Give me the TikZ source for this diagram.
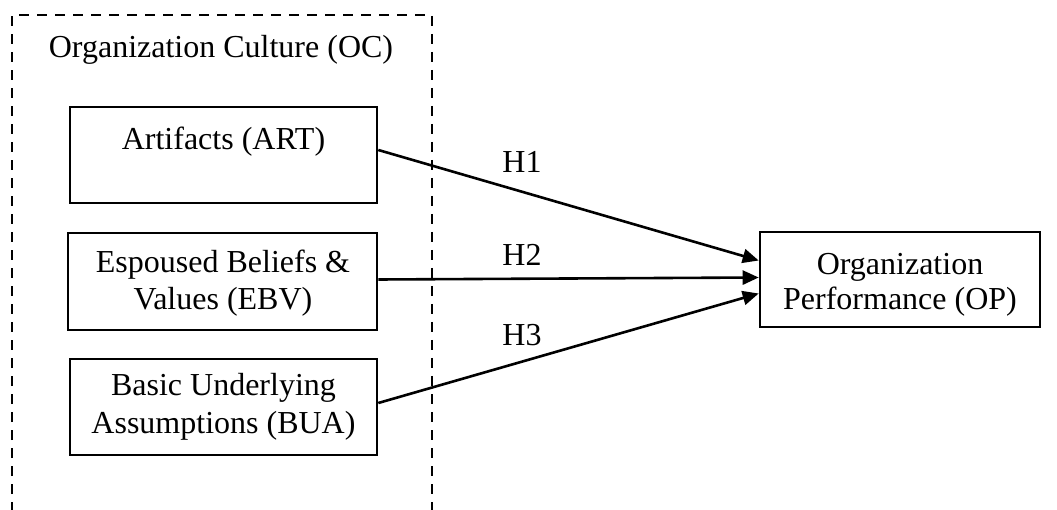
\documentclass[tikz,border=0pt]{standalone}
\usepackage{fontspec}
\setmainfont{Liberation Serif}
\usetikzlibrary{arrows.meta}
\tikzset{
  txt/.style={font=\fontsize{32}{37}\selectfont, inner sep=0pt, align=center},
  boxn/.style={draw, line width=2.6pt, inner sep=0pt},
  conn/.style={line width=2.6pt, -{Triangle[length=16pt,width=14pt]}},
  frame/.style={line width=2.4pt, dash pattern=on 10pt off 8pt},
  hlab/.style={font=\fontsize{32}{37}\selectfont, inner sep=0pt, anchor=base}
}
\begin{document}
\begin{tikzpicture}[x=1pt,y=-1pt]
\useasboundingbox (0,0) rectangle (1057,510);
% frame
\coordinate (fbl) at (12,512);
\coordinate (ftl) at (12,15);
\coordinate (ftr) at (432,15);
\coordinate (fbr) at (432,512);
\draw[frame] (fbl) -- (ftl) -- (ftr) -- (fbr);
\node[txt, anchor=base] (oc) at (221,58) {Organization Culture (OC)};
% boxes
\node[boxn, minimum width=307pt, minimum height=96pt] (art) at (223.5,155) {};
\node[boxn, minimum width=309pt, minimum height=97pt] (ebv) at (222.5,281.5) {};
\node[boxn, minimum width=307pt, minimum height=96pt] (bua) at (223.5,407) {};
\node[boxn, minimum width=280pt, minimum height=95pt] (op) at (900,279.5) {};
% texts
\node[txt, anchor=base] (artt) at (223.5,150) {Artifacts (ART)};
\node[txt, anchor=base] (ebvt1) at (223,273) {Espoused Beliefs \&};
\node[txt, anchor=base] (ebvt2) at (223,310) {Values (EBV)};
\node[txt, anchor=base] (buat1) at (223.5,395) {Basic Underlying};
\node[txt, anchor=base] (buat2) at (223.5,433) {Assumptions (BUA)};
\node[txt, anchor=base] (opt1) at (900,275) {Organization};
\node[txt, anchor=base] (opt2) at (900,310) {Performance (OP)};
% connectors
\draw[conn] ([yshift=5pt]art.east) -- ([yshift=19pt]op.west);
\draw[conn] ([yshift=2pt]ebv.east) -- ([yshift=2pt]op.west);
\draw[conn] ([yshift=4pt]bua.east) -- ([yshift=-14pt]op.west);
% labels
\node[hlab] (h1) at (522,173) {H1};
\node[hlab] (h2) at (522,266) {H2};
\node[hlab] (h3) at (522,346) {H3};
\end{tikzpicture}
\end{document}
